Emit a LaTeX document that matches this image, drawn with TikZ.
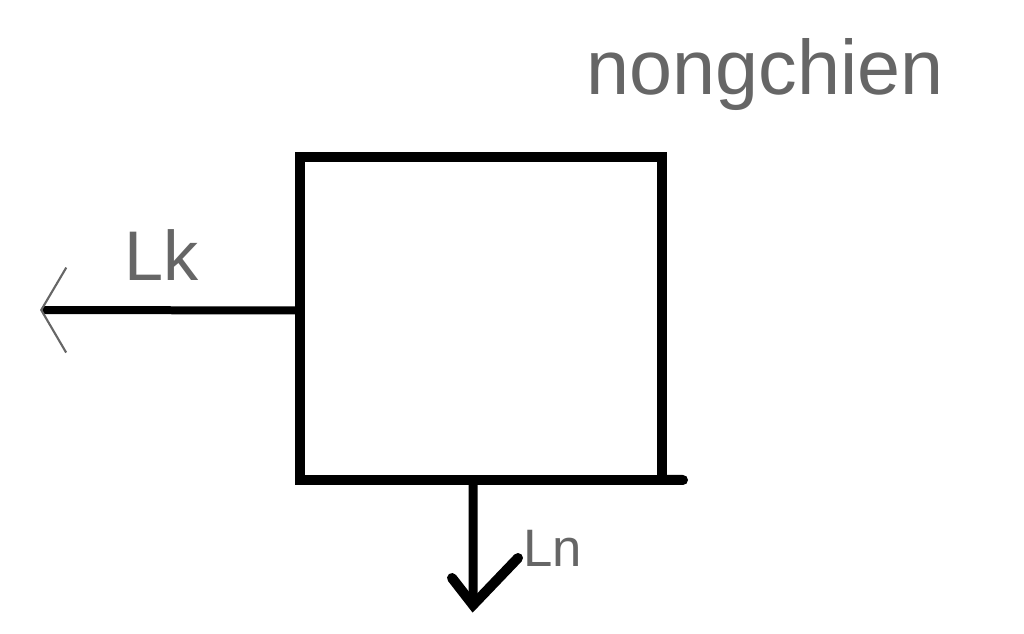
\documentclass[tikz,border=0pt]{standalone}
\usepackage{fontspec}
\setmainfont{Liberation Sans}
\usetikzlibrary{arrows.meta}
\begin{document}
\begin{tikzpicture}[x=0.02cm, y=-0.02cm,
    heavy/.style={line width=0.2cm, line cap=round},
    scribble/.style={text=black!60, inner sep=0pt}]
  \useasboundingbox (0, 0) rectangle (1024, 634);

  \node[draw, line width=0.2cm, outer sep=0pt, minimum width=7.24cm, minimum height=6.46cm] (box) at (481, 318.5) {};
  \coordinate (edge end) at (683, 480);
  \draw[heavy] (box.south east) -- (edge end);

  \coordinate (lk tip) at (40, 310);
  \draw[line width=0.16cm, -{Straight Barb[length=0.5cm, width=1.7cm, line width=1.2pt, color=black!60]}]
    ([yshift=0.16cm]box.west) -- (lk tip);

  \coordinate (ln tip) at (473, 605);
  \draw[line width=0.18cm] ([xshift=-0.16cm]box.south) -- (ln tip);
  \draw[heavy] (ln tip) ++(-21, -27) -- (ln tip) -- ++(45, -47);

  \node[scribble, font=\fontsize{44}{44}\selectfont] (title) at (765, 75) {nongchien};
  \node[scribble, font=\fontsize{40}{40}\selectfont] (lk) at (162, 255) {Lk};
  \node[scribble, font=\fontsize{30}{30}\selectfont] (ln) at (553, 548) {Ln};
\end{tikzpicture}
\end{document}
